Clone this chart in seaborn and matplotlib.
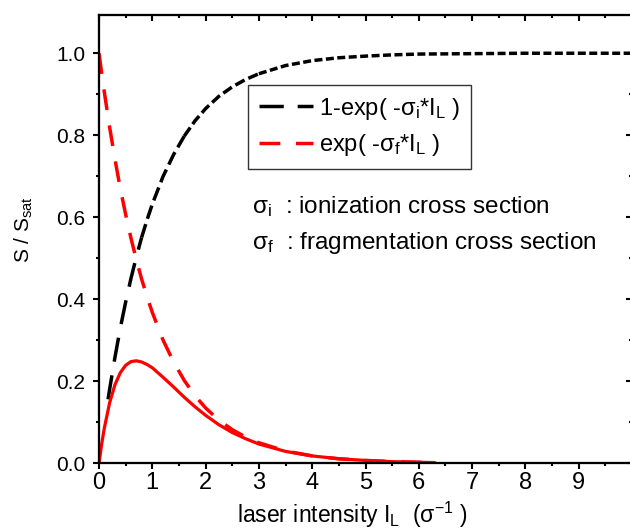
import matplotlib
matplotlib.use("Agg")
import matplotlib.pyplot as plt
import seaborn as sns
import numpy as np

# ---- data ----
x_ion = [0.17, 0.2, 0.3, 0.4, 0.5, 0.6, 0.7, 0.8, 0.9, 1.0, 1.2, 1.4, 1.6, 1.8, 2.0,
         2.25, 2.5, 2.75, 3.0, 3.5, 4.0, 4.5, 5.0, 5.5, 6.0, 7.0, 8.0, 9.0, 10.0]
y_ion = [0.156, 0.181, 0.259, 0.330, 0.393, 0.451, 0.503, 0.551, 0.593, 0.632, 0.699,
         0.753, 0.798, 0.835, 0.865, 0.895, 0.918, 0.936, 0.950, 0.970, 0.982, 0.989,
         0.993, 0.996, 0.998, 0.999, 1.000, 1.000, 1.000]

x_frag = [0.0, 0.05, 0.1, 0.2, 0.3, 0.4, 0.5, 0.6, 0.7, 0.8, 0.9, 1.0, 1.2, 1.4, 1.6,
          1.8, 2.0, 2.25, 2.5, 2.75, 3.0, 3.5, 4.0, 4.5, 5.0, 5.5, 6.0, 6.3]
y_frag = [1.000, 0.951, 0.905, 0.819, 0.741, 0.670, 0.607, 0.549, 0.497, 0.449, 0.407,
          0.368, 0.301, 0.247, 0.202, 0.165, 0.135, 0.105, 0.082, 0.064, 0.050, 0.030,
          0.018, 0.011, 0.007, 0.004, 0.0025, 0.0018]
y_prod = [0.000, 0.047, 0.086, 0.148, 0.192, 0.221, 0.239, 0.248, 0.250, 0.247, 0.241,
          0.233, 0.210, 0.186, 0.161, 0.138, 0.117, 0.094, 0.075, 0.060, 0.047, 0.029,
          0.018, 0.011, 0.007, 0.004, 0.0025, 0.0018]

x_ticks = [0, 1, 2, 3, 4, 5, 6, 7, 8, 9]
y_ticks = [0.0, 0.2, 0.4, 0.6, 0.8, 1.0]

label_ion = "1-exp( -$\\mathrm{σ_i}$*I$_\\mathrm{L}$ )"
label_frag = "exp( -$\\mathrm{σ_f}$*I$_\\mathrm{L}$ )"
note_i = "$\\mathrm{σ_i}$  : ionization cross section"
note_f = "$\\mathrm{σ_f}$  : fragmentation cross section"
xlabel = "laser intensity I$_\\mathrm{L}$  ($\\mathrm{σ^{-1}}$ )"
ylabel = "S / S$_\\mathrm{sat}$"

# ---- style ----
sns.set_style("ticks")
plt.rcParams['font.family'] = ['Liberation Sans', 'DejaVu Sans']
plt.rcParams['mathtext.fontset'] = 'custom'
plt.rcParams['mathtext.rm'] = 'Liberation Sans'
plt.rcParams['mathtext.it'] = 'Liberation Sans:italic'
plt.rcParams['mathtext.bf'] = 'Liberation Sans:bold'
for k in ('text.color', 'axes.labelcolor', 'xtick.color', 'ytick.color', 'axes.edgecolor'):
    plt.rcParams[k] = 'black'

fig = plt.figure(figsize=(6.3, 5.3), dpi=100)
ax = fig.add_axes([99 / 630, 1 - 463.3 / 530, 533 / 630, 448.6 / 530])

xi = np.array(x_ion)
yi = np.array(y_ion)
segments = [(0.0, 0.8, (7, 4)), (0.8, 1.6, (4, 1.6)), (1.6, 3.0, (3, 1.2)), (3.0, 10.01, (2.3, 1.0))]
for k, (a, b, pat) in enumerate(segments):
    m = (xi >= a) & (xi <= b)
    sns.lineplot(x=xi[m], y=yi[m], ax=ax, color='black', lw=2.5,
                 linestyle=(0, pat), errorbar=None, sort=False,
                 label=label_ion if k == 0 else None, legend=False)

sns.lineplot(x=x_frag, y=y_frag, ax=ax, color='#ff0000', lw=2.5, linestyle=(0, (6, 4.5)),
             errorbar=None, sort=False, label=label_frag, legend=False)
sns.lineplot(x=x_frag, y=y_prod, ax=ax, color='#ff0000', lw=2.3, errorbar=None,
             sort=False, legend=False)

ax.set_xlim(0, 10)
ax.set_ylim(0, 1.094)
ax.set_xticks(x_ticks)
ax.set_xticklabels([str(t) for t in x_ticks])
ax.set_yticks(y_ticks)
ax.set_yticklabels([f"{t:.1f}" for t in y_ticks])
ax.set_xticks(np.arange(0.5, 10, 1.0), minor=True)
ax.set_yticks(np.arange(0.1, 1.09, 0.2), minor=True)
for s in ax.spines.values():
    s.set_linewidth(1.5)
    s.set_color('black')
ax.tick_params(axis='both', which='major', width=1.5, length=4.5,
               direction='out', color='black')
ax.tick_params(axis='x', which='major', labelsize=17, pad=2)
ax.tick_params(axis='y', which='major', labelsize=15, pad=5.5)
ax.tick_params(axis='both', which='minor', width=1.5, length=2.5, direction='out')
ax.tick_params(top=False, right=False, which='both')
ax.grid(False)

ax2 = ax.twiny()
ax2.set_xlim(ax.get_xlim())
ax2.set_xticks(x_ticks + [10])
ax2.set_xticks(np.arange(0.5, 10, 1.0), minor=True)
ax2.tick_params(axis='x', which='major', direction='in', length=4.5, width=1.5, labeltop=False)
ax2.tick_params(axis='x', which='minor', direction='in', length=2.5, width=1.5)
ax3 = ax.twinx()
ax3.set_ylim(ax.get_ylim())
ax3.set_yticks(y_ticks)
ax3.set_yticks(np.arange(0.1, 1.09, 0.2), minor=True)
ax3.tick_params(axis='y', which='major', direction='in', length=4.5, width=1.5, labelright=False)
ax3.tick_params(axis='y', which='minor', direction='in', length=2.5, width=1.5)
for a in (ax2, ax3):
    for s in a.spines.values():
        s.set_linewidth(1.5)
    a.grid(False)

leg = ax.legend(loc='upper left', bbox_to_anchor=(0.28, 0.843), fontsize=17,
                frameon=True, fancybox=False, edgecolor='#333333', framealpha=1,
                handlelength=2.3, handletextpad=0.25, borderpad=0.45, labelspacing=0.45,
                borderaxespad=0)
leg.get_frame().set_linewidth(1.0)
# keep left padding small like the reference
leg._legend_box.align = "left"

ax.text(2.87, 0.61, note_i, fontsize=17.5, ha='left', va='baseline')
ax.text(2.87, 0.523, note_f, fontsize=17.5, ha='left', va='baseline')

fig.text(352 / 630, 1 - 523 / 530, xlabel, fontsize=16.5, ha='center', va='baseline')
fig.text(24 / 630, 1 - 230 / 530, ylabel, fontsize=15, ha='center', va='center', rotation=90)

fig.savefig("out.png", dpi=100)
